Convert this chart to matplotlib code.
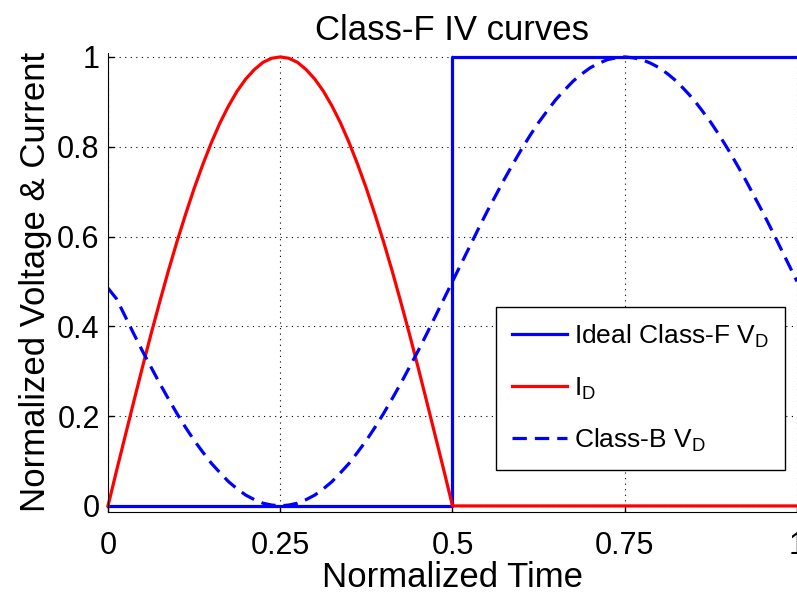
import matplotlib
matplotlib.use('Agg')
from matplotlib import pyplot as plt

plt.rcParams['font.family'] = ['Liberation Sans', 'DejaVu Sans']
plt.rcParams['mathtext.fontset'] = 'custom'
plt.rcParams['mathtext.rm'] = 'Liberation Sans'

# normalized time samples (step 0.0125)
t = [0.0, 0.0125, 0.025, 0.0375, 0.05, 0.0625, 0.075, 0.0875, 0.1, 0.1125,
     0.125, 0.1375, 0.15, 0.1625, 0.175, 0.1875, 0.2, 0.2125, 0.225, 0.2375,
     0.25, 0.2625, 0.275, 0.2875, 0.3, 0.3125, 0.325, 0.3375, 0.35, 0.3625,
     0.375, 0.3875, 0.4, 0.4125, 0.425, 0.4375, 0.45, 0.4625, 0.475, 0.4875,
     0.5, 0.5125, 0.525, 0.5375, 0.55, 0.5625, 0.575, 0.5875, 0.6, 0.6125,
     0.625, 0.6375, 0.65, 0.6625, 0.675, 0.6875, 0.7, 0.7125, 0.725, 0.7375,
     0.75, 0.7625, 0.775, 0.7875, 0.8, 0.8125, 0.825, 0.8375, 0.85, 0.8625,
     0.875, 0.8875, 0.9, 0.9125, 0.925, 0.9375, 0.95, 0.9625, 0.975, 0.9875,
     1.0]

# drain current (half sine then off)
i_d = [0.0, 0.079, 0.156, 0.233, 0.309, 0.383, 0.454, 0.523, 0.588, 0.649,
       0.707, 0.760, 0.809, 0.853, 0.891, 0.924, 0.951, 0.972, 0.988, 0.997,
       1.0, 0.997, 0.988, 0.972, 0.951, 0.924, 0.891, 0.853, 0.809, 0.760,
       0.707, 0.649, 0.588, 0.523, 0.454, 0.383, 0.309, 0.233, 0.156, 0.079,
       0.0, 0.0, 0.0, 0.0, 0.0, 0.0, 0.0, 0.0, 0.0, 0.0,
       0.0, 0.0, 0.0, 0.0, 0.0, 0.0, 0.0, 0.0, 0.0, 0.0,
       0.0, 0.0, 0.0, 0.0, 0.0, 0.0, 0.0, 0.0, 0.0, 0.0,
       0.0, 0.0, 0.0, 0.0, 0.0, 0.0, 0.0, 0.0, 0.0, 0.0,
       0.0]

# class-B drain voltage
vb = [0.485, 0.461, 0.422, 0.383, 0.345, 0.309, 0.273, 0.239, 0.206, 0.175,
      0.146, 0.120, 0.095, 0.074, 0.054, 0.038, 0.024, 0.014, 0.006, 0.002,
      0.0, 0.002, 0.006, 0.014, 0.024, 0.038, 0.054, 0.074, 0.095, 0.120,
      0.146, 0.175, 0.206, 0.239, 0.273, 0.309, 0.345, 0.383, 0.422, 0.461,
      0.5, 0.539, 0.578, 0.617, 0.655, 0.691, 0.727, 0.761, 0.794, 0.825,
      0.854, 0.880, 0.905, 0.926, 0.946, 0.962, 0.976, 0.986, 0.994, 0.998,
      1.0, 0.998, 0.994, 0.986, 0.976, 0.962, 0.946, 0.926, 0.905, 0.880,
      0.854, 0.825, 0.794, 0.761, 0.727, 0.691, 0.655, 0.617, 0.578, 0.539,
      0.5]

# ideal class-F square wave
tf = [0.0, 0.5, 0.5, 1.0]
vf = [0.0, 0.0, 1.0, 1.0]

xticks = [0, 0.25, 0.5, 0.75, 1]
xlabels = ['0', '0.25', '0.5', '0.75', '1']
yticks = [0, 0.2, 0.4, 0.6, 0.8, 1]
ylabels = ['0', '0.2', '0.4', '0.6', '0.8', '1']

fig = plt.figure(figsize=(7.97, 6.08), dpi=100)
ax = fig.add_axes([0.1355, 0.158, 0.8645, 0.755])

ax.plot(tf, vf, color='#0000ff', lw=2.3, label='Ideal Class-F V$_\\mathregular{D}$', clip_on=False)
ax.plot(t, i_d, color='#ff0000', lw=2.3, label='I$_\\mathregular{D}$', clip_on=False)
ax.plot(t, vb, color='#0000ff', lw=2.3, ls=(0, (4.5, 2.5)), label='Class-B V$_\\mathregular{D}$')

ax.set_xlim(0, 1)
ax.set_ylim(-0.0134, 1.009)
ax.set_xticks(xticks)
ax.set_xticklabels(xlabels)
ax.set_yticks(yticks)
ax.set_yticklabels(ylabels)
ax.grid(True, color='black', ls=(0, (1, 4)), lw=0.8)
ax.tick_params(direction='in', length=4, width=1, labelsize=22)
ax.tick_params(axis='x', pad=14)
ax.tick_params(axis='y', pad=6)
for s in ['top', 'right']:
    ax.spines[s].set_visible(False)

ax.set_title('Class-F IV curves', fontsize=25, pad=9)
ax.set_xlabel('Normalized Time', fontsize=25, labelpad=0)
ax.set_ylabel('Normalized Voltage & Current', fontsize=25, labelpad=4)

leg = ax.legend(loc='lower left', bbox_to_anchor=(0.563, 0.0915), fontsize=19,
                fancybox=False, edgecolor='black', framealpha=1, handlelength=2.1,
                handletextpad=0.25, labelspacing=0.95, borderpad=0.6, borderaxespad=0)
leg.get_frame().set_linewidth(1)

fig.savefig('out.png', dpi=100)
